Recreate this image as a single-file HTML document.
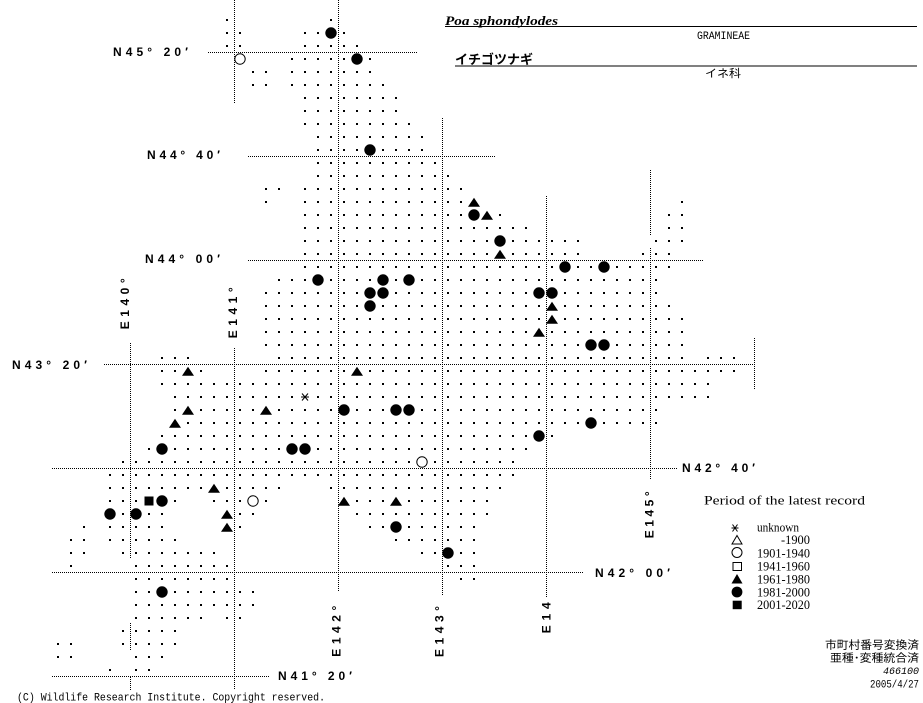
<!DOCTYPE html>
<html><head><meta charset="utf-8"><style>
html,body{margin:0;padding:0;background:#fff;}
body{width:923px;height:703px;overflow:hidden;}
svg{display:block;}
.lab{font-family:"Liberation Sans",sans-serif;font-weight:bold;font-size:12px;fill:#000;}
.mono{font-family:"Liberation Mono",monospace;fill:#000;}
.ser{font-family:"Liberation Serif",serif;fill:#000;}
.jp{font-family:"Liberation Sans","Noto Sans CJK JP",sans-serif;fill:#000;}
</style></head><body>
<svg width="923" height="703" viewBox="0 0 923 703" xmlns="http://www.w3.org/2000/svg">
<defs>
<pattern id="d" patternUnits="userSpaceOnUse" x="0" y="0" width="13" height="13"><rect x="5" y="6" width="2" height="2" fill="#000"/></pattern>
<circle id="fc" cx="0" cy="0" r="5.7" fill="#000"/>
<circle id="oc" cx="0" cy="0" r="5.2" fill="#fff" stroke="#000" stroke-width="1"/>
<path id="ft" d="M0,-4.3 L6,4.7 L-6,4.7 Z" fill="#000"/>
</defs>
<rect width="923" height="703" fill="#fff"/>
<g fill="url(#d)" shape-rendering="crispEdges">
<rect x="221" y="13" width="13" height="13"/><rect x="325" y="13" width="13" height="13"/>
<rect x="221" y="26" width="26" height="13"/><rect x="299" y="26" width="52" height="13"/>
<rect x="221" y="39" width="26" height="13"/><rect x="299" y="39" width="65" height="13"/>
<rect x="286" y="52" width="91" height="13"/>
<rect x="247" y="65" width="26" height="13"/><rect x="286" y="65" width="91" height="13"/>
<rect x="247" y="78" width="26" height="13"/><rect x="286" y="78" width="104" height="13"/>
<rect x="299" y="91" width="104" height="13"/>
<rect x="299" y="104" width="104" height="13"/>
<rect x="299" y="117" width="117" height="13"/>
<rect x="312" y="130" width="117" height="13"/>
<rect x="312" y="143" width="117" height="13"/>
<rect x="312" y="156" width="130" height="13"/>
<rect x="312" y="169" width="143" height="13"/>
<rect x="260" y="182" width="26" height="13"/><rect x="299" y="182" width="169" height="13"/>
<rect x="260" y="195" width="13" height="13"/><rect x="299" y="195" width="182" height="13"/><rect x="676" y="195" width="13" height="13"/>
<rect x="299" y="208" width="208" height="13"/><rect x="663" y="208" width="26" height="13"/>
<rect x="299" y="221" width="234" height="13"/><rect x="663" y="221" width="26" height="13"/>
<rect x="299" y="234" width="286" height="13"/><rect x="650" y="234" width="39" height="13"/>
<rect x="299" y="247" width="286" height="13"/><rect x="637" y="247" width="39" height="13"/>
<rect x="299" y="260" width="377" height="13"/>
<rect x="273" y="273" width="390" height="13"/>
<rect x="260" y="286" width="403" height="13"/>
<rect x="260" y="299" width="416" height="13"/>
<rect x="260" y="312" width="429" height="13"/>
<rect x="260" y="325" width="429" height="13"/>
<rect x="260" y="338" width="429" height="13"/>
<rect x="156" y="351" width="39" height="13"/><rect x="273" y="351" width="416" height="13"/><rect x="702" y="351" width="39" height="13"/>
<rect x="156" y="364" width="52" height="13"/><rect x="260" y="364" width="481" height="13"/>
<rect x="156" y="377" width="559" height="13"/>
<rect x="169" y="390" width="546" height="13"/>
<rect x="169" y="403" width="494" height="13"/>
<rect x="169" y="416" width="494" height="13"/>
<rect x="156" y="429" width="403" height="13"/>
<rect x="143" y="442" width="390" height="13"/>
<rect x="117" y="455" width="403" height="13"/>
<rect x="104" y="468" width="416" height="13"/>
<rect x="104" y="481" width="182" height="13"/><rect x="325" y="481" width="182" height="13"/>
<rect x="104" y="494" width="78" height="13"/><rect x="208" y="494" width="65" height="13"/><rect x="338" y="494" width="156" height="13"/>
<rect x="104" y="507" width="65" height="13"/><rect x="221" y="507" width="39" height="13"/><rect x="351" y="507" width="143" height="13"/>
<rect x="78" y="520" width="13" height="13"/><rect x="104" y="520" width="65" height="13"/><rect x="221" y="520" width="26" height="13"/><rect x="364" y="520" width="117" height="13"/>
<rect x="65" y="533" width="26" height="13"/><rect x="104" y="533" width="78" height="13"/><rect x="390" y="533" width="91" height="13"/>
<rect x="65" y="546" width="26" height="13"/><rect x="117" y="546" width="104" height="13"/><rect x="416" y="546" width="65" height="13"/>
<rect x="65" y="559" width="13" height="13"/><rect x="130" y="559" width="104" height="13"/><rect x="442" y="559" width="39" height="13"/>
<rect x="130" y="572" width="104" height="13"/><rect x="455" y="572" width="26" height="13"/>
<rect x="130" y="585" width="130" height="13"/>
<rect x="130" y="598" width="130" height="13"/>
<rect x="130" y="611" width="78" height="13"/><rect x="221" y="611" width="26" height="13"/>
<rect x="117" y="624" width="65" height="13"/>
<rect x="52" y="637" width="26" height="13"/><rect x="117" y="637" width="65" height="13"/>
<rect x="52" y="650" width="26" height="13"/><rect x="130" y="650" width="39" height="13"/>
<rect x="104" y="663" width="13" height="13"/><rect x="130" y="663" width="26" height="13"/>
</g>
<g stroke="#000" stroke-width="1" stroke-dasharray="1 1" shape-rendering="crispEdges" fill="none">
<line x1="208" y1="52.5" x2="417" y2="52.5"/>
<line x1="248" y1="156.5" x2="495" y2="156.5"/>
<line x1="248" y1="260.5" x2="703" y2="260.5"/>
<line x1="104" y1="364.5" x2="754" y2="364.5"/>
<line x1="52" y1="468.5" x2="677" y2="468.5"/>
<line x1="52" y1="572.5" x2="583" y2="572.5"/>
<line x1="52" y1="676.5" x2="270" y2="676.5"/>
<line x1="130.5" y1="343" x2="130.5" y2="558"/>
<line x1="130.5" y1="623" x2="130.5" y2="650"/>
<line x1="130.5" y1="677" x2="130.5" y2="690"/>
<line x1="234.5" y1="0" x2="234.5" y2="104"/>
<line x1="234.5" y1="348" x2="234.5" y2="689"/>
<line x1="338.5" y1="0" x2="338.5" y2="592"/>
<line x1="442.5" y1="118" x2="442.5" y2="596"/>
<line x1="546.5" y1="196" x2="546.5" y2="597"/>
<line x1="650.5" y1="170" x2="650.5" y2="235"/>
<line x1="650.5" y1="248" x2="650.5" y2="480"/>
<line x1="754.5" y1="338" x2="754.5" y2="390"/>
</g>
<g>
<use href="#fc" x="331" y="33"/><use href="#fc" x="357" y="59"/><use href="#fc" x="370" y="150"/>
<use href="#fc" x="474" y="215"/><use href="#fc" x="500" y="241"/>
<use href="#fc" x="318" y="280"/><use href="#fc" x="383" y="280"/><use href="#fc" x="409" y="280"/>
<use href="#fc" x="565" y="267"/><use href="#fc" x="604" y="267"/>
<use href="#fc" x="370" y="293"/><use href="#fc" x="383" y="293"/><use href="#fc" x="539" y="293"/><use href="#fc" x="552" y="293"/>
<use href="#fc" x="370" y="306"/><use href="#fc" x="591" y="345"/><use href="#fc" x="604" y="345"/>
<use href="#fc" x="162" y="449"/><use href="#fc" x="292" y="449"/><use href="#fc" x="305" y="449"/>
<use href="#fc" x="344" y="410"/><use href="#fc" x="396" y="410"/><use href="#fc" x="409" y="410"/>
<use href="#fc" x="591" y="423"/><use href="#fc" x="539" y="436"/>
<use href="#fc" x="162" y="501"/><use href="#fc" x="110" y="514"/><use href="#fc" x="136" y="514"/>
<use href="#fc" x="396" y="527"/><use href="#fc" x="448" y="553"/><use href="#fc" x="162" y="592"/>
<use href="#oc" x="240" y="59"/><use href="#oc" x="253" y="501"/><use href="#oc" x="422" y="462"/>
<use href="#ft" x="474" y="202"/><use href="#ft" x="487" y="215"/><use href="#ft" x="500" y="254"/>
<use href="#ft" x="552" y="306"/><use href="#ft" x="552" y="319"/><use href="#ft" x="539" y="332"/>
<use href="#ft" x="188" y="371"/><use href="#ft" x="357" y="371"/><use href="#ft" x="188" y="410"/>
<use href="#ft" x="266" y="410"/><use href="#ft" x="175" y="423"/><use href="#ft" x="214" y="488"/>
<use href="#ft" x="227" y="514"/><use href="#ft" x="227" y="527"/><use href="#ft" x="344" y="501"/>
<use href="#ft" x="396" y="501"/>
<rect x="144.5" y="496.5" width="9" height="9" fill="#000"/>
<g stroke="#000" stroke-width="1"><line x1="301" y1="397" x2="309" y2="397"/><line x1="302" y1="393.5" x2="308" y2="400.5"/><line x1="308" y1="393.5" x2="302" y2="400.5"/></g>
</g>
<!-- latitude labels -->
<text class="lab" x="113" y="56" textLength="75" lengthAdjust="spacing">N45° 20′</text>
<text class="lab" x="147" y="159" textLength="73" lengthAdjust="spacing">N44° 40′</text>
<text class="lab" x="145" y="263.2" textLength="75" lengthAdjust="spacing">N44° 00′</text>
<text class="lab" x="12" y="368.8" textLength="75" lengthAdjust="spacing">N43° 20′</text>
<text class="lab" x="682" y="472.2" textLength="73" lengthAdjust="spacing">N42° 40′</text>
<text class="lab" x="595" y="577.2" textLength="75" lengthAdjust="spacing">N42° 00′</text>
<text class="lab" x="278" y="680" textLength="74" lengthAdjust="spacing">N41° 20′</text>
<!-- longitude labels -->
<text class="lab" transform="translate(128.8,329.3) rotate(-90)" textLength="51" lengthAdjust="spacing">E140°</text>
<text class="lab" transform="translate(237,338.3) rotate(-90)" textLength="51" lengthAdjust="spacing">E141°</text>
<text class="lab" transform="translate(340.3,656.7) rotate(-90)" textLength="51" lengthAdjust="spacing">E142°</text>
<text class="lab" transform="translate(443.6,657) rotate(-90)" textLength="51" lengthAdjust="spacing">E143°</text>
<text class="lab" transform="translate(550.3,633.3) rotate(-90)" textLength="31" lengthAdjust="spacing">E14</text>
<text class="lab" transform="translate(653.6,538.3) rotate(-90)" textLength="47" lengthAdjust="spacing">E145°</text>
<!-- title -->
<text class="ser" x="445" y="25" font-size="13" font-weight="bold" font-style="italic" textLength="113" lengthAdjust="spacingAndGlyphs">Poa sphondylodes</text>
<line x1="445" y1="26.5" x2="917" y2="26.5" stroke="#000" stroke-width="1" shape-rendering="crispEdges"/>
<text class="mono" x="697" y="39" font-size="11" textLength="53" lengthAdjust="spacingAndGlyphs">GRAMINEAE</text>
<text class="jp" x="455" y="64" font-size="13" font-weight="bold" textLength="78" lengthAdjust="spacingAndGlyphs">イチゴツナギ</text>
<line x1="455" y1="66" x2="917" y2="66" stroke="#000" stroke-width="1" shape-rendering="crispEdges"/>
<text class="jp" x="705" y="77" font-size="11" textLength="36" lengthAdjust="spacingAndGlyphs">イネ科</text>
<!-- legend -->
<text class="ser" x="704" y="504.5" font-size="13" textLength="161" lengthAdjust="spacingAndGlyphs">Period of the latest record</text>
<g stroke="#000" stroke-width="1"><line x1="731.5" y1="528" x2="738.5" y2="528"/><line x1="732.5" y1="524.5" x2="737.5" y2="531.5"/><line x1="737.5" y1="524.5" x2="732.5" y2="531.5"/></g>
<path d="M737,535.5 L742,544 L732,544 Z" fill="#fff" stroke="#000" stroke-width="1"/>
<circle cx="737" cy="552.5" r="5" fill="#fff" stroke="#000" stroke-width="1"/>
<rect x="733" y="562.5" width="8.5" height="8" fill="#fff" stroke="#000" stroke-width="1"/>
<path d="M737,574 L742.5,583.5 L731.5,583.5 Z" fill="#000"/>
<circle cx="737" cy="592" r="5.4" fill="#000"/>
<rect x="732.7" y="600.7" width="9" height="8.5" fill="#000"/>
<text class="ser" x="757" y="531.5" font-size="13" textLength="42" lengthAdjust="spacingAndGlyphs">unknown</text>
<text class="ser" x="781" y="544" font-size="13" textLength="29" lengthAdjust="spacingAndGlyphs">-1900</text>
<text class="ser" x="757" y="557.5" font-size="13" textLength="53" lengthAdjust="spacingAndGlyphs">1901-1940</text>
<text class="ser" x="757" y="570.5" font-size="13" textLength="53" lengthAdjust="spacingAndGlyphs">1941-1960</text>
<text class="ser" x="757" y="583.3" font-size="13" textLength="53" lengthAdjust="spacingAndGlyphs">1961-1980</text>
<text class="ser" x="757" y="596.5" font-size="13" textLength="53" lengthAdjust="spacingAndGlyphs">1981-2000</text>
<text class="ser" x="757" y="609.2" font-size="13" textLength="53" lengthAdjust="spacingAndGlyphs">2001-2020</text>
<!-- bottom right -->
<text class="jp" x="825" y="648.5" font-size="11" textLength="94" lengthAdjust="spacingAndGlyphs">市町村番号変換済</text>
<text class="jp" x="830" y="661.5" font-size="11" textLength="89" lengthAdjust="spacingAndGlyphs">亜種･変種統合済</text>
<text class="mono" x="883" y="674" font-size="10" font-style="italic" textLength="36" lengthAdjust="spacingAndGlyphs">466100</text>
<text class="mono" x="870" y="687.3" font-size="11" textLength="49" lengthAdjust="spacingAndGlyphs">2005/4/27</text>
<!-- copyright -->
<text class="mono" x="17" y="700.5" font-size="11" textLength="308" lengthAdjust="spacingAndGlyphs">(C) Wildlife Research Institute. Copyright reserved.</text>
</svg>
</body></html>
